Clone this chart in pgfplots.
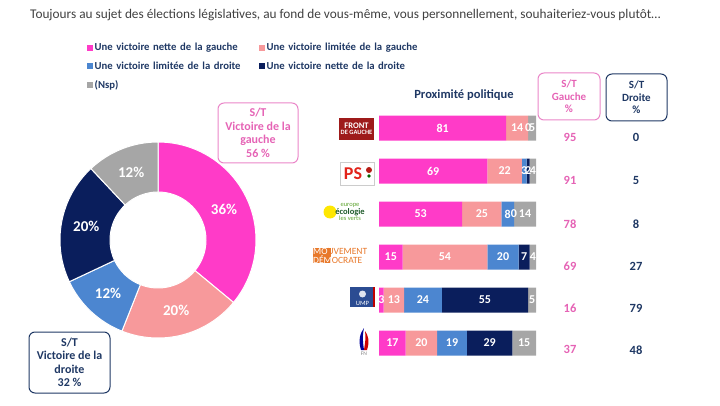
\documentclass[border=0pt]{standalone}
\usepackage{pgfplots}
\pgfplotsset{compat=1.18}
\usepackage{pgfplotstable}
\usepackage{fontspec}
\setmainfont{Carlito}
\definecolor{cMag}{HTML}{FF3BC8}
\definecolor{cLpink}{HTML}{F7999B}
\definecolor{cBlue}{HTML}{4C86D0}
\definecolor{cNavy}{HTML}{0A1E5C}
\definecolor{cGray}{HTML}{A6A6A6}
\definecolor{cPinkTxt}{HTML}{E563B5}
\definecolor{cPinkBorder}{HTML}{EA86C8}
\definecolor{cNavyTxt}{HTML}{1F3864}
\definecolor{cTitle}{HTML}{404040}
\definecolor{cFdG}{HTML}{9E1A1A}
\definecolor{cPS}{HTML}{E2231A}
\definecolor{cEELV}{HTML}{5FA532}
\definecolor{cEELVdark}{HTML}{1E5B2A}
\definecolor{cModem}{HTML}{E8782A}
\definecolor{cUMP}{HTML}{2B4C92}
\newcommand{\fs}[2]{\fontsize{#1}{#2}\selectfont}
\newcommand{\donutfont}{\bfseries\fontsize{15}{18}\selectfont}

% columns: a = nette gauche, b = limitee gauche, c = limitee droite, d = nette droite, e = Nsp
\pgfplotstableread{
y a b c d e
0 81 14 0 0 5
1 69 22 3 2 4
2 53 25 8 0 14
3 15 54 20 7 4
4 3 13 24 55 5
5 17 20 19 29 15
}\data

\begin{document}
\begin{tikzpicture}[x=1pt,y=1pt]
\useasboundingbox (0,0) rectangle (720,405);

% title
\node[anchor=west, text=cTitle, font=\fs{13.3}{16}, inner sep=0pt] at (30,390) {Toujours au sujet des élections législatives, au fond de vous-même, vous personnellement, souhaiteriez-vous plutôt…};

% donut
\begin{axis}[at={(158pt,165pt)}, anchor=center, scale only axis, width=196pt, height=196pt,
  xmin=-1, xmax=1, ymin=-1, ymax=1, hide axis, clip=false]
\addplot[draw=none, mark=none] coordinates {(0,0)};
\xdef\acc{90}
\foreach \v/\c in {36/cMag,20/cLpink,12/cBlue,20/cNavy,12/cGray}{
  \pgfmathsetmacro{\a}{\acc}
  \pgfmathsetmacro{\b}{\acc-3.6*\v}
  \pgfmathsetmacro{\m}{(\a+\b)/2}
  \edef\temp{\noexpand\fill[\c, draw=white, line width=1pt] ([shift={(\a:98pt)}]axis cs:0,0) arc[start angle=\a, end angle=\b, radius=98pt] -- ([shift={(\b:48pt)}]axis cs:0,0) arc[start angle=\b, end angle=\a, radius=48pt] -- cycle;
  \noexpand\node[text=white, font=\noexpand\donutfont] at ([shift={(\m:73pt)}]axis cs:0,0) {\v\noexpand\%};}
  \temp
  \xdef\acc{\b}
}
\end{axis}

% bars
\begin{axis}[at={(379pt,40.5pt)}, anchor=south west, scale only axis, width=157pt, height=258pt,
  xbar stacked, bar width=25pt,
  xmin=0, xmax=100, ymin=-0.5, ymax=5.5, y dir=reverse,
  hide axis, clip=false,
  legend columns=2,
  legend cell align=left,
  legend image code/.code={\fill[#1, draw=none] (0pt,-3pt) rectangle (6pt,3pt);},
  legend style={at={(-1.879,1.26)}, anchor=north west, draw=none, fill=none,
    font=\bfseries\fs{10.7}{12.5}, text=cNavyTxt,
    nodes={text width=163pt, inner sep=1.5pt},
    row sep=6.5pt},
]
\addplot[fill=cMag, draw=none] table[x=a,y=y]{\data};
\addlegendentry{Une victoire nette de la gauche}
\addplot[fill=cLpink, draw=none] table[x=b,y=y]{\data};
\addlegendentry{Une victoire limitée de la gauche}
\addplot[fill=cBlue, draw=none] table[x=c,y=y]{\data};
\addlegendentry{Une victoire limitée de la droite}
\addplot[fill=cNavy, draw=none] table[x=d,y=y]{\data};
\addlegendentry{Une victoire nette de la droite}
\addplot[fill=cGray, draw=none] table[x=e,y=y]{\data};
\addlegendentry{(Nsp)}

% S/T values
\node[text=cPinkTxt, font=\bfseries\fs{12.5}{14}] at (axis cs:121.7,0.21) {95};
\node[text=cPinkTxt, font=\bfseries\fs{12.5}{14}] at (axis cs:121.7,1.23) {91};
\node[text=cPinkTxt, font=\bfseries\fs{12.5}{14}] at (axis cs:121.7,2.23) {78};
\node[text=cPinkTxt, font=\bfseries\fs{12.5}{14}] at (axis cs:121.7,3.21) {69};
\node[text=cPinkTxt, font=\bfseries\fs{12.5}{14}] at (axis cs:121.7,4.19) {16};
\node[text=cPinkTxt, font=\bfseries\fs{12.5}{14}] at (axis cs:121.7,5.16) {37};
\node[text=cNavyTxt, font=\bfseries\fs{12.5}{14}] at (axis cs:163.7,0.21) {0};
\node[text=cNavyTxt, font=\bfseries\fs{12.5}{14}] at (axis cs:163.7,1.23) {5};
\node[text=cNavyTxt, font=\bfseries\fs{12.5}{14}] at (axis cs:163.7,2.23) {8};
\node[text=cNavyTxt, font=\bfseries\fs{12.5}{14}] at (axis cs:163.7,3.21) {27};
\node[text=cNavyTxt, font=\bfseries\fs{12.5}{14}] at (axis cs:163.7,4.19) {79};
\node[text=cNavyTxt, font=\bfseries\fs{12.5}{14}] at (axis cs:163.7,5.16) {48};
\end{axis}

% bar value labels (same geometry, not stacked)
\begin{axis}[at={(379pt,40.5pt)}, anchor=south west, scale only axis, width=157pt, height=258pt,
  xmin=0, xmax=100, ymin=-0.5, ymax=5.5, y dir=reverse,
  hide axis, clip=false,
  /pgf/number format/assume math mode=true,
  nodes near coords, point meta=explicit,
  nodes near coords={\pgfmathprintnumber{\pgfplotspointmeta}},
  every node near coord/.append style={anchor=center, text=white, font=\bfseries\fs{12}{14}, inner sep=0pt},
]
\addplot[draw=none, mark=none] table[x expr=\thisrow{a}/2, y=y, meta=a]{\data};
\addplot[draw=none, mark=none] table[x expr=\thisrow{a}+\thisrow{b}/2, y=y, meta=b]{\data};
\addplot[draw=none, mark=none] table[x expr=\thisrow{a}+\thisrow{b}+\thisrow{c}/2, y=y, meta=c]{\data};
\addplot[draw=none, mark=none, skip coords between index={0}{1}] table[x expr=\thisrow{a}+\thisrow{b}+\thisrow{c}+\thisrow{d}/2, y=y, meta=d]{\data};
\addplot[draw=none, mark=none] table[x expr=\thisrow{a}+\thisrow{b}+\thisrow{c}+\thisrow{d}+\thisrow{e}/2, y=y, meta=e]{\data};
\end{axis}

% party logos (drawn approximations)
% Front de Gauche
\node[fill=cFdG, text=white, font=\bfseries\fs{6.5}{6}, align=center, inner sep=1pt, minimum width=35pt, minimum height=22pt] at (356.5,276) {\fs{8.5}{8}FRONT\\DE GAUCHE};
% PS
\node[draw=gray!40, fill=white, minimum width=34pt, minimum height=23pt, inner sep=0pt] at (357,231.5) {};
\node[text=cPS, font=\bfseries\fs{18}{18}, inner sep=0pt] at (353,231) {PS};
\fill[cPS!80!black] (369,235) circle (3pt);
\fill[green!40!black] (369,229) circle (1.8pt);
% Europe Ecologie les Verts
\fill[yellow!90!orange] (330,193) circle (6.5pt);
\node[align=center, inner sep=0pt, font=\fs{6.5}{6.5}] at (350,193) {\textcolor{cEELV}{europe}\\\textcolor{cEELVdark}{\bfseries\fs{8.5}{7.5}écologie}\\\textcolor{cEELV}{les verts}};
% MoDem
\fill[cModem] (313,142) rectangle (331,157);
\node[anchor=west, align=left, inner sep=0pt, text=cModem, font=\fs{9.5}{7.6}] at (313,149.5) {\textcolor{white}{MO}UVEMENT\\\textcolor{white}{DÉM}OCRATE};
% UMP
\fill[cUMP] (350,98) rectangle (375,118);
\fill[red!75!black] (373,98) rectangle (375,118);
\fill[white!85!cUMP] (362.5,111) circle (3.5pt);
\node[text=white, font=\fs{6.5}{6.5}, inner sep=0pt] at (362.5,102) {UMP};
% FN
\fill[blue!60!black] (361,55) .. controls (358,64) and (360,72) .. (364,77) .. controls (362,68) and (363,62) .. (364,55) -- cycle;
\fill[red!80!black] (367,55) .. controls (370,64) and (368,70) .. (365,74) .. controls (366,66) and (365,62) .. (364,55) -- cycle;
\node[text=gray, font=\fs{5.5}{5.5}, inner sep=0pt] at (364,51) {FN};

% Proximité politique
\node[text=cNavyTxt, font=\bfseries\fs{12.5}{14}] at (464,310) {Proximité politique};

% header boxes
\node[draw=cPinkBorder, line width=1pt, rounded corners=6pt, minimum width=62pt, minimum height=47pt, align=center, text=cPinkTxt, font=\bfseries\fs{11}{12.5}] at (569,308.5) {S/T\\Gauche\\\%};
\node[draw=cNavyTxt, line width=1pt, rounded corners=6pt, minimum width=61pt, minimum height=47pt, align=center, text=cNavyTxt, font=\bfseries\fs{11}{12.5}] at (636.5,307.5) {S/T\\Droite\\\%};

% donut S/T boxes
\node[draw=cPinkBorder, line width=1pt, rounded corners=6pt, minimum width=80pt, minimum height=60pt, align=center, text=cPinkTxt, font=\bfseries\fs{12}{13.5}] at (258,272) {S/T\\Victoire de la\\gauche\\56 \%};
\node[draw=cNavyTxt, line width=1pt, rounded corners=6pt, fill=white, minimum width=81pt, minimum height=61pt, align=center, text=cNavyTxt, font=\bfseries\fs{12}{13.5}] at (69.5,42.5) {S/T\\Victoire de la\\droite\\32 \%};
\end{tikzpicture}
\end{document}
